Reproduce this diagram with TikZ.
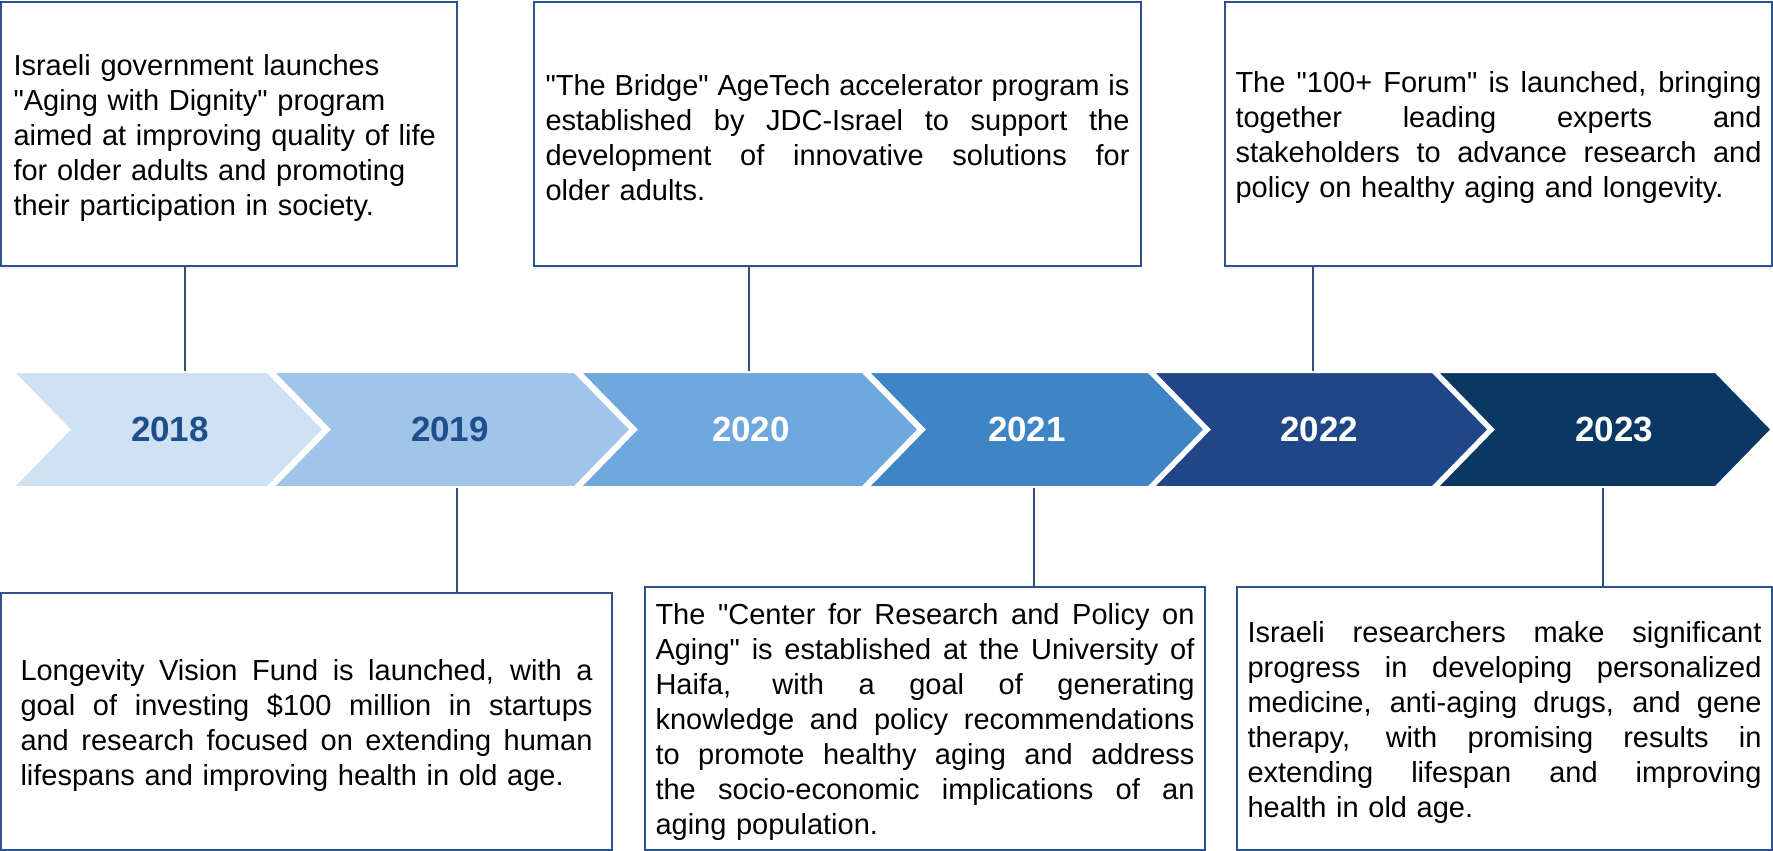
\documentclass[tikz,border=0pt]{standalone}
\usepackage{fontspec}
\setmainfont{Liberation Sans}
\newfontfamily\boxfont{Liberation Sans}
\usetikzlibrary{shadows}

\definecolor{frame}{HTML}{2E5190}
\definecolor{linkc}{HTML}{2F4F80}
\definecolor{yrdark}{HTML}{1F4E8C}
\definecolor{chevA}{HTML}{CFE2F3}
\definecolor{chevB}{HTML}{A0C5E8}
\definecolor{chevC}{HTML}{6FA8DC}
\definecolor{chevD}{HTML}{3F85C6}
\definecolor{chevE}{HTML}{1F4788}
\definecolor{chevF}{HTML}{0A3862}

\newlength{\boxw}
\newcommand{\fillline}[1]{\leavevmode\hbox to \boxw{\spaceskip=\fontdimen2\font plus 1fil\relax #1}}

\begin{document}
\begin{tikzpicture}[
	  x=0.5pt, y=-0.5pt,
	  event/.style={draw=frame, line width=1pt, fill=white, inner sep=0pt, align=left,
	    text width=#1, font=\boxfont\fontsize{14.5}{17.5}\selectfont,
	    execute at begin node={\global\boxw=#1\rule{0pt}{14.5pt}},
	    drop shadow={opacity=0.12, shadow xshift=0pt, shadow yshift=-1.5pt}},
	  year/.style={font=\fontsize{17.5}{21}\selectfont\bfseries, inner sep=0pt},
	  link/.style={draw=linkc, line width=0.9pt},
	]
	
	\useasboundingbox (0,0) rectangle (1773,851);
	
	% Chevrons
	\foreach \L/\R/\col/\tc/\yr/\tx/\cx in {
	    11/268/chevA/yrdark/2018/170/185,
	    271/575/chevB/yrdark/2019/450/457,
	    578/863/chevC/white/2020/751/749,
	    866/1149/chevD/white/2021/1027/1034,
	    1151/1433/chevE/white/2022/1319/1313,
	    1435/1716/chevF/white/2023/1614/1603} {
		\filldraw[fill=\col, draw=white, line width=2pt]
		  (\L,371) -- (\R,371) -- (\R+57,429.5) -- (\R,488) -- (\L,488) -- (\L+57,429.5) -- cycle;
		\node[year, text=\tc] (y\yr) at (\tx,429.5) {\yr};
		\coordinate (top\yr) at (\cx,371);
		\coordinate (bot\yr) at (\cx,488);
	}
	
	% Event 2018
	\node[event=215.5pt, minimum width=228pt, minimum height=132pt] (ev2018) at (229,134) {
		Israeli government launches\\
		"Aging with Dignity" program\\
		aimed at improving quality of life\\
		for older adults and promoting\\
		their participation in society.
	};
	
	% Event 2020
	\node[event=292pt, minimum width=303.5pt, minimum height=132pt] (ev2020) at (837.5,134) {
		\fillline{"The Bridge" AgeTech accelerator program is}\\
		\fillline{established by JDC-Israel to support the}\\
		\fillline{development of innovative solutions for}\\
		older adults.
	};
	
	% Event 2022
	\node[event=263pt, minimum width=273.5pt, minimum height=132pt] (ev2022) at (1498.5,134) {
		\fillline{The "100+ Forum" is launched, bringing}\\
		\fillline{together leading experts and}\\
		\fillline{stakeholders to advance research and}\\
		policy on healthy aging and longevity.
	};
	
	% Event 2019
	\node[event=286pt, minimum width=305.5pt, minimum height=128.5pt] (ev2019) at (306.5,721.5) {
		\fillline{Longevity Vision Fund is launched, with a}\\
		\fillline{goal of investing \$100 million in startups}\\
		\fillline{and research focused on extending human}\\
		lifespans and improving health in old age.
	};
	
	% Event 2021
	\node[event=269.5pt, minimum width=280pt, minimum height=131.5pt] (ev2021) at (925,718.5) {
		\fillline{The "Center for Research and Policy on}\\
		\fillline{Aging" is established at the University of}\\
		\fillline{Haifa, with a goal of generating}\\
		\fillline{knowledge and policy recommendations}\\
		\fillline{to promote healthy aging and address}\\
		\fillline{the socio-economic implications of an}\\
		aging population.
	};
	
	% Event 2023
	\node[event=257pt, minimum width=267.5pt, minimum height=131.5pt] (ev2023) at (1504.5,718.5) {
		\fillline{Israeli researchers make significant}\\
		\fillline{progress in developing personalized}\\
		\fillline{medicine, anti-aging drugs, and gene}\\
		\fillline{therapy, with promising results in}\\
		\fillline{extending lifespan and improving}\\
		health in old age.
	};
	
	% Links
	\draw[link] (ev2018.south -| top2018) -- (top2018);
	\draw[link] (ev2020.south -| top2020) -- (top2020);
	\draw[link] (ev2022.south -| top2022) -- (top2022);
	\draw[link] (bot2019) -- (bot2019 |- ev2019.north);
	\draw[link] (bot2021) -- (bot2021 |- ev2021.north);
	\draw[link] (bot2023) -- (bot2023 |- ev2023.north);
	
	\end{tikzpicture}
\end{document}
